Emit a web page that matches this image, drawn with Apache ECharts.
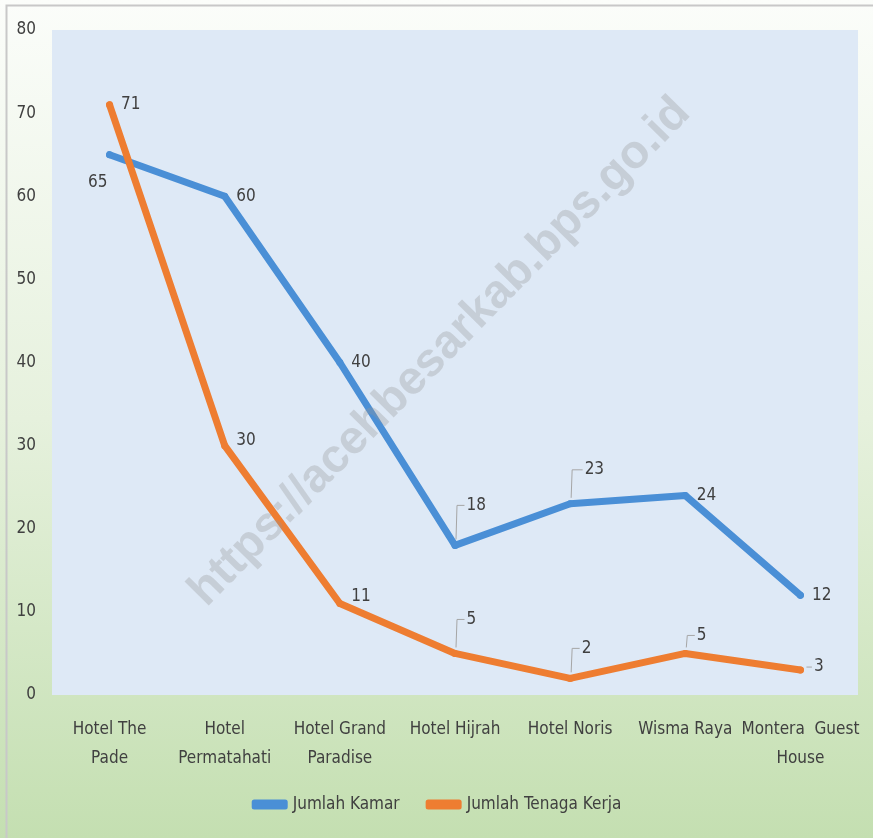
<!DOCTYPE html>
<html><head><meta charset="utf-8">
<script src="https://cdn.jsdelivr.net/npm/echarts@6/dist/echarts.min.js"></script>
<style>html,body{margin:0;padding:0;background:#fff}#c{width:873px;height:838px}</style>
</head><body><div id="c"></div>
<script>
const categories = ['Hotel The\nPade','Hotel\nPermatahati','Hotel Grand\nParadise','Hotel Hijrah','Hotel Noris','Wisma Raya','Montera  Guest\nHouse'];
const jumlahKamar = [65, 60, 40, 18, 23, 24, 12];
const jumlahTenagaKerja = [71, 30, 11, 5, 2, 5, 3];
const yTicks = {min: 0, max: 80, interval: 10};

const FONT = "'Liberation Sans Narrow','DejaVu Sans Condensed','Liberation Sans',sans-serif";
// label offsets (dx, dy) per point
const kamarOff = [[-33, 28], [0, 0], [0, 0], [0, -40], [3, -34], [0, 0], [0, 0]];
const tenagaOff = [[0, 0], [0, -5], [0, -7], [0, -34], [0, -30], [0, -18], [2, -3]];
const leaderK = [false, false, false, true, true, false, false];
const leaderT = [false, false, false, true, true, true, true];
const LABEL_GAP = 11.5; // symbol radius + label distance

const chart = echarts.init(document.getElementById('c'));
function mkSeries(name, values, color, off) {
  return {
    name, type: 'line', data: values, z: 3,
    symbol: 'circle', symbolSize: 7, showSymbol: true,
    itemStyle: {color},
    lineStyle: {color, width: 7, cap: 'round', join: 'round'},
    label: {show: true, position: 'right', distance: 8, color: '#404040', fontSize: 17, fontFamily: FONT},
    labelLayout: function (p) {
      const o = off[p.dataIndex];
      return {dx: o[0], dy: o[1]};
    },
    emphasis: {disabled: true},
    animation: false
  };
}
function mkLeaders(values, off, leader) {
  return {
    type: 'custom', silent: true, z: 2,
    data: values.map((v, i) => [i, v]),
    encode: {x: 0, y: 1},
    renderItem: function (params, api) {
      const i = params.dataIndex;
      if (!leader[i]) return null;
      const pt = api.coord([api.value(0), api.value(1)]);
      const o = off[i];
      const ly = pt[1] + o[1];
      const lx = pt[0] + LABEL_GAP + o[0] - 2;
      let pts;
      if (ly > pt[1] - 10) pts = [[pt[0] + 6, ly], [lx, ly]];
      else pts = [[pt[0] + 1, pt[1] - 6], [pt[0] + 2, ly], [lx, ly]];
      return {type: 'polyline', shape: {points: pts}, style: {stroke: '#a6a6a6', lineWidth: 1, fill: null}};
    },
    animation: false
  };
}
const sK = mkSeries('Jumlah Kamar', jumlahKamar, '#4a8fd6', kamarOff);
const sT = mkSeries('Jumlah Tenaga Kerja', jumlahTenagaKerja, '#ee7d31', tenagaOff);
chart.setOption({
  animation: false,
  backgroundColor: {type: 'linear', x: 0, y: 0, x2: 0, y2: 1, colorStops: [
    {offset: 0, color: '#fbfdfa'}, {offset: 0.5, color: '#e6f1dd'}, {offset: 1, color: '#c4dfb1'}]},
  grid: {left: 52, right: 15, top: 30, bottom: 143, show: true, backgroundColor: '#dee9f6', borderWidth: 0},
  legend: {
    bottom: 20, left: 'center', itemWidth: 36, itemHeight: 10, itemGap: 26, icon: 'roundRect',
    textStyle: {color: '#404040', fontSize: 17, fontFamily: FONT},
    data: ['Jumlah Kamar', 'Jumlah Tenaga Kerja']
  },
  xAxis: {
    type: 'category', data: categories, boundaryGap: true,
    axisLine: {show: false}, axisTick: {show: false},
    axisLabel: {color: '#404040', fontSize: 17, fontFamily: FONT, lineHeight: 29, margin: 20, interval: 0}
  },
  yAxis: {
    type: 'value', min: yTicks.min, max: yTicks.max, interval: yTicks.interval,
    splitLine: {show: false}, axisLine: {show: false}, axisTick: {show: false},
    axisLabel: {color: '#404040', fontSize: 17, fontFamily: FONT, margin: 16}
  },
  graphic: [
    {type: 'rect', left: 4, top: 3, shape: {width: 868, height: 834}, style: {fill: 'none', stroke: '#c8c8c8', lineWidth: 2}, z: 0, silent: true},
    {type: 'text', x: 440, y: 352, rotation: Math.PI / 4 * 1.01, z: 100, silent: true,
      style: {text: 'https://acehbesarkab.bps.go.id', fill: 'rgba(150,150,150,0.32)', font: "bold 47px 'Liberation Sans', Arial, sans-serif", align: 'center', verticalAlign: 'middle'}}
  ],
  series: [sK, sT, mkLeaders(jumlahKamar, kamarOff, leaderK), mkLeaders(jumlahTenagaKerja, tenagaOff, leaderT)]
});
</script></body></html>
